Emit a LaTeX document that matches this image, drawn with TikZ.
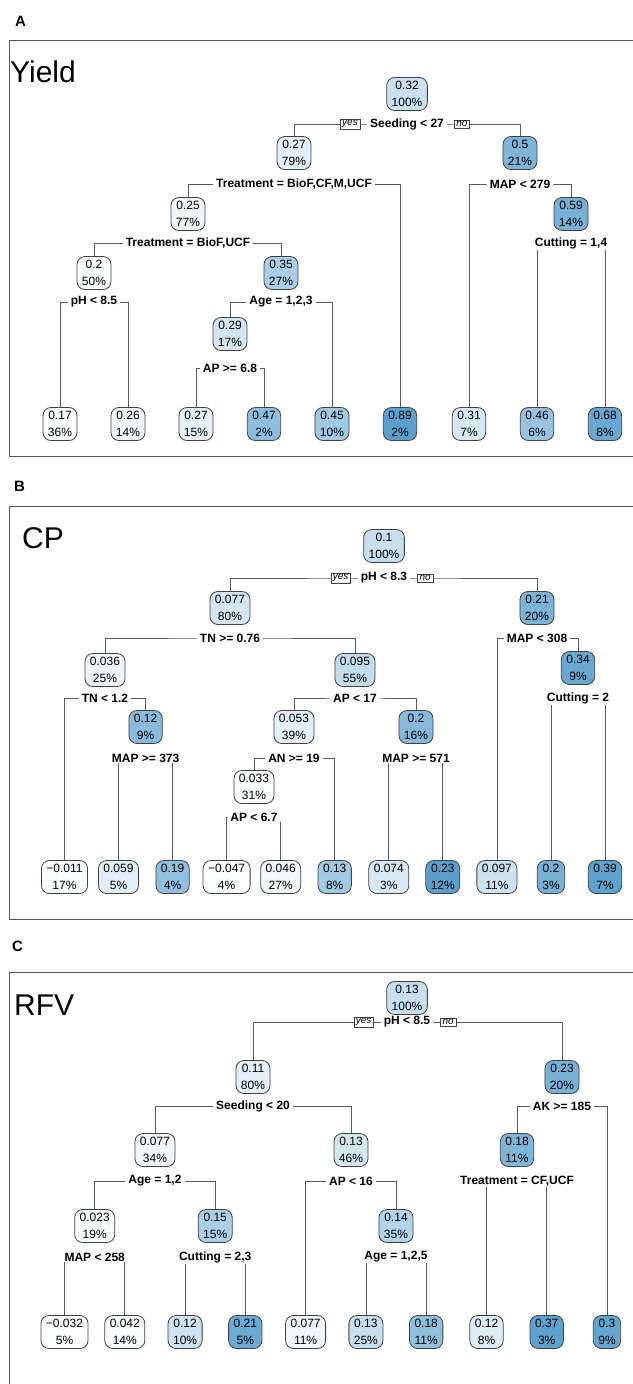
\documentclass[tikz,border=0pt]{standalone}
\usepackage{fontspec}
\setmainfont{Liberation Sans}
\usetikzlibrary{positioning,backgrounds}
\definecolor{rpblue}{RGB}{66,146,198}
\definecolor{framegray}{RGB}{85,85,85}
\tikzstyle{rbox}=[draw=black!75, line width=0.8pt, fill=white, rounded corners=8pt, align=center, inner xsep=5pt, inner ysep=2pt, minimum height=33pt, font=\fontsize{12}{16.5}\selectfont]
\tikzstyle{rsplit}=[fill=white, inner xsep=3pt, inner ysep=1pt, font=\bfseries\fontsize{12}{14}\selectfont]
\tikzstyle{ryesno}=[draw=black!75, fill=white, inner xsep=2pt, inner ysep=1.5pt, font=\itshape\fontsize{10}{11}\selectfont]
\tikzstyle{rbranch}=[draw=black!65, line width=0.8pt]
\tikzstyle{panel}=[draw=framegray, line width=1pt]
\tikzstyle{ptitle}=[anchor=base west, inner sep=0pt, font=\fontsize{30}{36}\selectfont]
\tikzstyle{pletter}=[anchor=base west, inner sep=0pt, font=\bfseries\fontsize{15}{18}\selectfont]

\begin{document}
\begin{tikzpicture}[x=1pt,y=-1pt]
	\useasboundingbox (0,0) rectangle (632,1384);

	% panel A
	\node[pletter] (letA) at (15,26) {A};
	\draw[panel] (650,40) -- (9.5,40) -- (9.5,456) -- (650,456);
	\node[ptitle] (titA) at (10,82) {Yield};

	\node[rbox, fill=rpblue!28] (a0) at (407,94) {0.32\\100\%};
	\node[rsplit] (sa0) at (407,124) {Seeding < 27};
	\node[ryesno, left=7pt of sa0] (ya0) {yes};
	\node[ryesno, right=7pt of sa0] (na0) {no};
	\node[rbox, fill=rpblue!15] (a1) at (294,153) {0.27\\79\%};
	\node[rbox, fill=rpblue!68] (a2) at (520,153) {0.5\\21\%};
	\node[rsplit] (sa1) at (294,184) {Treatment = BioF,CF,M,UCF};
	\node[rsplit] (sa2) at (520,184) {MAP < 279};
	\node[rbox, fill=rpblue!8] (a3) at (188,214) {0.25\\77\%};
	\node[rbox, fill=rpblue!72] (a4) at (571,214) {0.59\\14\%};
	\node[rsplit] (sa3) at (188,243) {Treatment = BioF,UCF};
	\node[rsplit] (sa4) at (571,243) {Cutting = 1,4};
	\node[rbox, fill=rpblue!2] (a5) at (94,273) {0.2\\50\%};
	\node[rbox, fill=rpblue!45] (a6) at (281,273) {0.35\\27\%};
	\node[rsplit] (sa5) at (94,302) {pH < 8.5};
	\node[rsplit] (sa6) at (281,302) {Age = 1,2,3};
	\node[rbox, fill=rpblue!24] (a7) at (230,334) {0.29\\17\%};
	\node[rsplit] (sa7) at (230,368) {AP >= 6.8};

	\node[rbox, fill=rpblue!2] (la1) at (60,424) {0.17\\36\%};
	\node[rbox, fill=rpblue!8] (la2) at (128,424) {0.26\\14\%};
	\node[rbox, fill=rpblue!14] (la3) at (196,424) {0.27\\15\%};
	\node[rbox, fill=rpblue!60] (la4) at (264,424) {0.47\\2\%};
	\node[rbox, fill=rpblue!50] (la5) at (332,424) {0.45\\10\%};
	\node[rbox, fill=rpblue!87] (la6) at (400,424) {0.89\\2\%};
	\node[rbox, fill=rpblue!22] (la7) at (469,424) {0.31\\7\%};
	\node[rbox, fill=rpblue!55] (la8) at (537,424) {0.46\\6\%};
	\node[rbox, fill=rpblue!80] (la9) at (605,424) {0.68\\8\%};

	% panel B
	\node[pletter] (letB) at (14,491) {B};
	\draw[panel] (650,506) -- (9.5,506) -- (9.5,919) -- (650,919);
	\node[ptitle] (titB) at (22,548) {CP};

	\node[rbox, fill=rpblue!30] (b0) at (384,546) {0.1\\100\%};
	\node[rsplit] (sb0) at (384,578) {pH < 8.3};
	\node[ryesno, left=7pt of sb0] (yb0) {yes};
	\node[ryesno, right=7pt of sb0] (nb0) {no};
	\node[rbox, fill=rpblue!24] (b1) at (230,608) {0.077\\80\%};
	\node[rbox, fill=rpblue!70] (b2) at (537,608) {0.21\\20\%};
	\node[rsplit] (sb1) at (230,638) {TN >= 0.76};
	\node[rsplit] (sb2) at (537,638) {MAP < 308};
	\node[rbox, fill=rpblue!9] (b3) at (105,670) {0.036\\25\%};
	\node[rbox, fill=rpblue!31] (b5) at (355,670) {0.095\\55\%};
	\node[rbox, fill=rpblue!80] (b4) at (578,668) {0.34\\9\%};
	\node[rsplit] (sb3) at (105,698) {TN < 1.2};
	\node[rsplit] (sb4) at (355,698) {AP < 17};
	\node[rsplit] (sb5) at (578,698) {Cutting = 2};
	\node[rbox, fill=rpblue!62] (b6) at (145.6,727) {0.12\\9\%};
	\node[rbox, fill=rpblue!15] (b7) at (294,727) {0.053\\39\%};
	\node[rbox, fill=rpblue!64] (b8) at (416,727) {0.2\\16\%};
	\node[rsplit] (sb6) at (145.6,758) {MAP >= 373};
	\node[rsplit] (sb7) at (294,758) {AN >= 19};
	\node[rsplit] (sb8) at (416,758) {MAP >= 571};
	\node[rbox, fill=rpblue!2] (b9) at (254,787) {0.033\\31\%};
	\node[rsplit] (sb9) at (254,817) {AP < 6.7};

	\node[rbox, fill=rpblue!3] (lb1) at (64.5,877) {−0.011\\17\%};
	\node[rbox, fill=rpblue!16] (lb2) at (118.5,877) {0.059\\5\%};
	\node[rbox, fill=rpblue!58] (lb3) at (172.6,877) {0.19\\4\%};
	\node[rbox, fill=rpblue!2] (lb4) at (226.6,877) {−0.047\\4\%};
	\node[rbox, fill=rpblue!8] (lb5) at (280.7,877) {0.046\\27\%};
	\node[rbox, fill=rpblue!50] (lb6) at (334.7,877) {0.13\\8\%};
	\node[rbox, fill=rpblue!20] (lb7) at (388.8,877) {0.074\\3\%};
	\node[rbox, fill=rpblue!87] (lb8) at (442.8,877) {0.23\\12\%};
	\node[rbox, fill=rpblue!27] (lb9) at (496.9,877) {0.097\\11\%};
	\node[rbox, fill=rpblue!72] (lb10) at (551,877) {0.2\\3\%};
	\node[rbox, fill=rpblue!85] (lb11) at (605,877) {0.39\\7\%};

	% panel C
	\node[pletter] (letC) at (12,951) {C};
	\draw[panel] (650,972) -- (9.5,972) -- (9.5,1400);
	\node[ptitle] (titC) at (14,1015) {RFV};

	\node[rbox, fill=rpblue!30] (c0) at (407,998) {0.13\\100\%};
	\node[rsplit] (sc0) at (407,1022) {pH < 8.5};
	\node[ryesno, left=7pt of sc0] (yc0) {yes};
	\node[ryesno, right=7pt of sc0] (nc0) {no};
	\node[rbox, fill=rpblue!15] (c1) at (253,1077) {0.11\\80\%};
	\node[rbox, fill=rpblue!72] (c2) at (562,1077) {0.23\\20\%};
	\node[rsplit] (sc1) at (253,1106) {Seeding < 20};
	\node[rsplit] (sc2) at (562,1106) {AK >= 185};
	\node[rbox, fill=rpblue!8] (c3) at (155,1150) {0.077\\34\%};
	\node[rbox, fill=rpblue!24] (c4) at (351,1150) {0.13\\46\%};
	\node[rbox, fill=rpblue!68] (c7) at (517,1150) {0.18\\11\%};
	\node[rsplit] (sc3) at (155,1181) {Age = 1,2};
	\node[rsplit] (sc4) at (351,1181) {AP < 16};
	\node[rsplit] (sc5) at (517,1181) {Treatment = CF,UCF};
	\node[rbox, fill=rpblue!3] (c5) at (94.7,1226) {0.023\\19\%};
	\node[rbox, fill=rpblue!45] (c6) at (215.2,1226) {0.15\\15\%};
	\node[rbox, fill=rpblue!40] (c8) at (396,1226) {0.14\\35\%};
	\node[rsplit] (sc6) at (94.7,1257) {MAP < 258};
	\node[rsplit] (sc7) at (215.2,1257) {Cutting = 2,3};
	\node[rsplit] (sc8) at (396,1257) {Age = 1,2,5};

	\node[rbox, fill=rpblue!2] (lc1) at (64.5,1332) {−0.032\\5\%};
	\node[rbox, fill=rpblue!4] (lc2) at (124.8,1332) {0.042\\14\%};
	\node[rbox, fill=rpblue!26] (lc3) at (185.1,1332) {0.12\\10\%};
	\node[rbox, fill=rpblue!78] (lc4) at (245.3,1332) {0.21\\5\%};
	\node[rbox, fill=rpblue!8] (lc5) at (305.6,1332) {0.077\\11\%};
	\node[rbox, fill=rpblue!30] (lc6) at (365.9,1332) {0.13\\25\%};
	\node[rbox, fill=rpblue!58] (lc7) at (426.2,1332) {0.18\\11\%};
	\node[rbox, fill=rpblue!18] (lc8) at (486.5,1332) {0.12\\8\%};
	\node[rbox, fill=rpblue!85] (lc9) at (546.7,1332) {0.37\\3\%};
	\node[rbox, fill=rpblue!82] (lc10) at (607,1332) {0.3\\9\%};

	% branches
	\begin{scope}[on background layer]
	\draw[rbranch] (a1.north) |- (sa0.center) -| (a2.north);
	\draw[rbranch] (a3.north) |- (sa1.center) -| (la6.north);
	\draw[rbranch] (la7.north) |- (sa2.center) -| (a4.north);
	\draw[rbranch] (a5.north) |- (sa3.center) -| (a6.north);
	\draw[rbranch] (la8.north) |- (sa4.center) -| (la9.north);
	\draw[rbranch] (la1.north) |- (sa5.center) -| (la2.north);
	\draw[rbranch] (a7.north) |- (sa6.center) -| (la5.north);
	\draw[rbranch] (la3.north) |- (sa7.center) -| (la4.north);

	\draw[rbranch] (b1.north) |- (sb0.center) -| (b2.north);
	\draw[rbranch] (b3.north) |- (sb1.center) -| (b5.north);
	\draw[rbranch] (lb9.north) |- (sb2.center) -| (b4.north);
	\draw[rbranch] (lb1.north) |- (sb3.center) -| (b6.north);
	\draw[rbranch] (b7.north) |- (sb4.center) -| (b8.north);
	\draw[rbranch] (lb10.north) |- (sb5.center) -| (lb11.north);
	\draw[rbranch] (lb2.north) |- (sb6.center) -| (lb3.north);
	\draw[rbranch] (b9.north) |- (sb7.center) -| (lb6.north);
	\draw[rbranch] (lb7.north) |- (sb8.center) -| (lb8.north);
	\draw[rbranch] (lb4.north) |- (sb9.center) -| (lb5.north);

	\draw[rbranch] (c1.north) |- (sc0.center) -| (c2.north);
	\draw[rbranch] (c3.north) |- (sc1.center) -| (c4.north);
	\draw[rbranch] (c7.north) |- (sc2.center) -| (lc10.north);
	\draw[rbranch] (c5.north) |- (sc3.center) -| (c6.north);
	\draw[rbranch] (lc5.north) |- (sc4.center) -| (c8.north);
	\draw[rbranch] (lc8.north) |- (sc5.center) -| (lc9.north);
	\draw[rbranch] (lc1.north) |- (sc6.center) -| (lc2.north);
	\draw[rbranch] (lc3.north) |- (sc7.center) -| (lc4.north);
	\draw[rbranch] (lc6.north) |- (sc8.center) -| (lc7.north);
	\end{scope}
\end{tikzpicture}
\end{document}
